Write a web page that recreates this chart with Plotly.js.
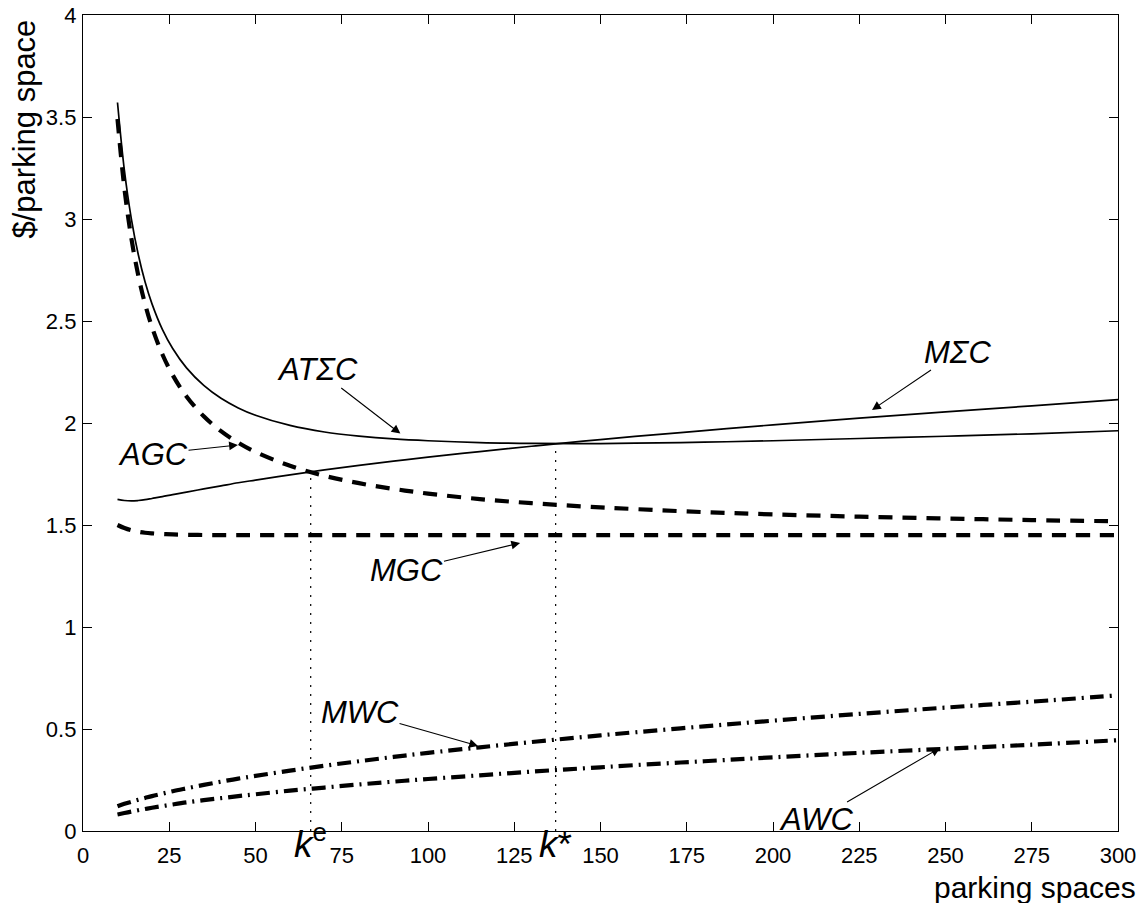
<!DOCTYPE html>
<html>
<head>
<meta charset="utf-8">
<script src="https://cdn.plot.ly/plotly-3.0.1.min.js"></script>
<style>html,body{margin:0;padding:0;background:#fff;}#chart{width:1141px;height:903px;}</style>
</head>
<body>
<div id="chart"></div>
<script>
// parking spaces (x)
const spaces = [10,12,14,16,18,20,23,26,30,35,40,45,50,60,70,80,90,100,115,130,145,160,180,200,225,250,275,300];
// average total social cost
const atsc = [3.571,3.238,3.002,2.827,2.691,2.584,2.459,2.365,2.270,2.184,2.121,2.074,2.038,1.988,1.956,1.936,1.922,1.913,1.904,1.900,1.899,1.901,1.906,1.913,1.924,1.935,1.947,1.962];
// marginal total social cost
const msc = [1.626,1.620,1.618,1.620,1.624,1.630,1.639,1.649,1.661,1.677,1.692,1.707,1.720,1.746,1.770,1.792,1.813,1.833,1.860,1.886,1.911,1.934,1.963,1.991,2.024,2.055,2.084,2.115];
// average garage cost
const agc = [3.490,3.150,2.907,2.725,2.583,2.470,2.337,2.235,2.130,2.033,1.960,1.903,1.858,1.790,1.741,1.705,1.677,1.654,1.627,1.607,1.591,1.578,1.563,1.552,1.541,1.532,1.524,1.518];
// marginal garage cost
const mgc = [1.500,1.485,1.474,1.467,1.462,1.459,1.456,1.454,1.452,1.451,1.450,1.450,1.450,1.450,1.450,1.450,1.450,1.450,1.450,1.450,1.450,1.450,1.450,1.450,1.450,1.450,1.450,1.450];
// marginal walking cost
const mwc = [0.121,0.133,0.143,0.153,0.162,0.171,0.183,0.195,0.209,0.226,0.242,0.257,0.270,0.296,0.320,0.342,0.363,0.383,0.410,0.436,0.461,0.484,0.513,0.541,0.574,0.605,0.634,0.665];
// average walking cost
const awc = [0.081,0.088,0.095,0.102,0.108,0.114,0.122,0.130,0.140,0.151,0.161,0.171,0.180,0.198,0.213,0.228,0.242,0.255,0.273,0.291,0.307,0.323,0.342,0.361,0.383,0.403,0.423,0.445];
// equilibrium and optimum capacities and their cost levels
const kNames = ['<i>k</i><sup>e</sup>', '<i>k</i>*'];
const kValues = [66, 137];
const kLevels = [1.765, 1.90];
// tick values
const xTicks = [0,25,50,75,100,125,150,175,200,225,250,275,300];
const yTicks = [0,0.5,1,1.5,2,2.5,3,3.5,4];
// curve labels: text, text centre, arrow tip
const labelText = ['AT\u03A3C','M\u03A3C','AGC','MGC','MWC','AWC'];
const labelPos = [[68.1,2.26],[253.5,2.348],[20.3,1.848],[93.9,1.279],[80.3,0.583],[212.5,0.054]];
const arrowTip = [[92,1.948],[228.7,2.064],[44.9,1.892],[126.7,1.412],[114.5,0.417],[248.4,0.407]];

const traces = [
  {x: spaces, y: atsc, mode:'lines', line:{color:'#000', width:1.7, shape:'spline'}},
  {x: spaces, y: msc, mode:'lines', line:{color:'#000', width:1.7, shape:'spline'}},
  {x: spaces, y: agc, mode:'lines', line:{color:'#000', width:4.2, dash:'14px,10px', shape:'spline'}},
  {x: spaces, y: mgc, mode:'lines', line:{color:'#000', width:4.2, dash:'14px,10px', shape:'spline'}},
  {x: spaces, y: mwc, mode:'lines', line:{color:'#000', width:4.2, dash:'14px,6px,2px,6px', shape:'spline'}},
  {x: spaces, y: awc, mode:'lines', line:{color:'#000', width:4.2, dash:'14px,6px,2px,6px', shape:'spline'}}
];
kValues.forEach((k,i)=>{
  traces.push({x:[k,k], y:[0,kLevels[i]], mode:'lines', line:{color:'#000', width:1.2, dash:'2px,7px'}});
});

const font = 'Liberation Sans, Arial, Helvetica, sans-serif';
const annotations = [];
labelText.forEach((t,i)=>{
  annotations.push({x:arrowTip[i][0], y:arrowTip[i][1], ax:labelPos[i][0], ay:labelPos[i][1],
    xref:'x', yref:'y', axref:'x', ayref:'y', text:'<i>'+t+'</i>', showarrow:true,
    arrowhead:2, arrowsize:1.6, arrowwidth:1.1, arrowcolor:'#000', borderpad:0,
    font:{family:font, size:31, color:'#000'}});
});
kValues.forEach((k,i)=>{
  annotations.push({x:k, y:0, xref:'x', yref:'paper', yshift:-36, text:kNames[i], showarrow:false,
    font:{family:font, size:37, color:'#000'}});
});
annotations.push({x:1.0, y:0, xref:'paper', yref:'paper', xanchor:'right', yanchor:'top', xshift:20, yshift:-38,
  text:'parking spaces', showarrow:false, font:{family:font, size:30, color:'#000'}});
annotations.push({x:0, y:1, xref:'paper', yref:'paper', xanchor:'center', yanchor:'top', xshift:-59, yshift:-3,
  text:'$/parking space', textangle:-90, showarrow:false, font:{family:font, size:31, color:'#000'}});

const axisCommon = {showgrid:false, zeroline:false, showline:true, linecolor:'#000', linewidth:1.2, mirror:'ticks',
  ticks:'inside', ticklen:9, tickwidth:1, tickcolor:'#000', tickfont:{family:font, size:22, color:'#000'}};

const layout = {
  width:1141, height:903,
  margin:{l:83, r:23, t:15, b:72},
  paper_bgcolor:'#fff', plot_bgcolor:'#fff',
  showlegend:false,
  xaxis: Object.assign({}, axisCommon, {range:[0,300], tickvals:xTicks, ticktext:xTicks.map(String), ticklabelstandoff:4}),
  yaxis: Object.assign({}, axisCommon, {range:[0,4], tickvals:yTicks, ticktext:yTicks.map(String), ticklabelstandoff:1}),
  annotations: annotations
};
Plotly.newPlot('chart', traces, layout, {displayModeBar:false, staticPlot:true});
</script>
</body>
</html>
